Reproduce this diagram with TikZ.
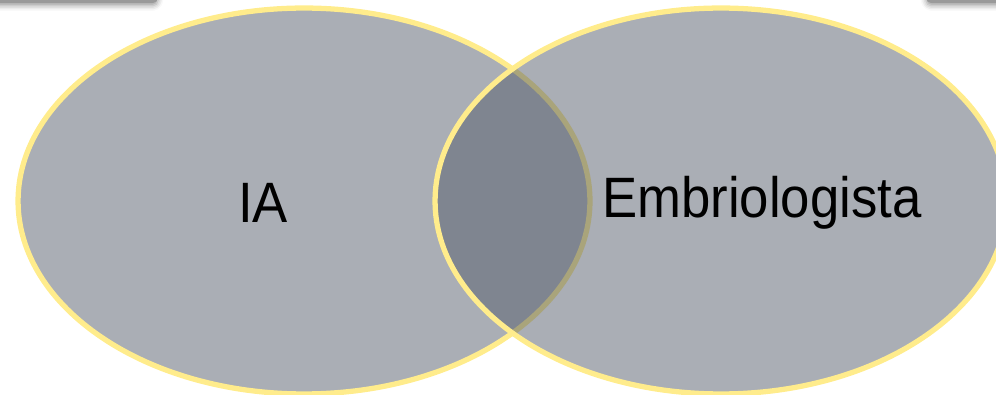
\documentclass[tikz,border=0pt]{standalone}
\usepackage{fontspec}
\setmainfont{Liberation Sans}
\usepackage{tikz}
\usetikzlibrary{shapes.geometric,shadows.blur}
\definecolor{VennGrey}{HTML}{555D6B}
\definecolor{VennYellow}{HTML}{FFEC8C}
\definecolor{BarGrey}{HTML}{9A9A9A}
\tikzset{
  setblob/.style={ellipse,draw=VennYellow,line width=3pt,fill=VennGrey,
    fill opacity=0.5,draw opacity=1,minimum width=11.44cm,minimum height=7.72cm,inner sep=0pt},
  setname/.style={font=\fontsize{30}{34}\selectfont,text=black,inner sep=0pt,yscale=1.08},
  bar/.style={fill=BarGrey,rounded corners=3pt,blur shadow={shadow xshift=0pt,shadow yshift=-1.5pt,shadow blur radius=3pt}}
}

\begin{document}
\begin{tikzpicture}[x=0.02cm,y=-0.02cm]
  \useasboundingbox (0,0) rectangle (996,395);
  \clip (0,0) rectangle (996,395);
  % slide bars cut off at the top
  \fill[bar] (-20,-40) rectangle (158,3);
  \fill[bar] (926,-40) rectangle (1020,3);
  % the two sets
  \node[setblob] (ia) at (304,201) {};
  \node[setblob] (emb) at (721,201) {};
  \node[setname] (iaName) at (263,203) {IA};
  \node[setname] (embName) at (762,203) {Embriologista};
\end{tikzpicture}
\end{document}
